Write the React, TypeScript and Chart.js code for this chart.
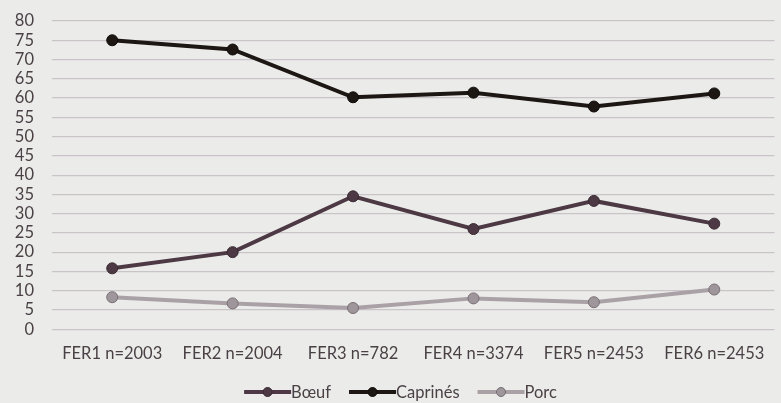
import React, { useEffect, useRef } from "react";
import { Chart, registerables } from "chart.js";

Chart.register(...registerables);

const categories = [
  "FER1 n=2003",
  "FER2 n=2004",
  "FER3 n=782",
  "FER4 n=3374",
  "FER5 n=2453",
  "FER6 n=2453",
];
const boeuf = [15.8, 20, 34.5, 26, 33.3, 27.4];
const caprines = [75, 72.6, 60.2, 61.4, 57.8, 61.2];
const porc = [8.3, 6.7, 5.5, 8, 7, 10.3];
const yTicks = [0, 5, 10, 15, 20, 25, 30, 35, 40, 45, 50, 55, 60, 65, 70, 75, 80];

const FONT = "Lato, 'Open Sans', sans-serif";
const TEXT = "#4a4146";

// Bottom legend: each entry is a short line with a round marker, followed by its label
const lineLegend = {
  id: "lineLegend",
  afterDraw(chart: any) {
    const ctx = chart.ctx;
    const sets = chart.data.datasets;
    const swW = 47;
    const gap = 18;
    const y = 392;
    ctx.save();
    ctx.font = `16.5px ${FONT}`;
    const widths = sets.map((d: any) => swW + ctx.measureText(d.label).width);
    const total = widths.reduce((a: number, b: number) => a + b, 0) + gap * (sets.length - 1);
    let x = chart.width / 2 + 10 - total / 2;
    sets.forEach((d: any, i: number) => {
      ctx.strokeStyle = d.borderColor;
      ctx.lineWidth = 4;
      ctx.beginPath();
      ctx.moveTo(x, y);
      ctx.lineTo(x + swW, y);
      ctx.stroke();
      ctx.beginPath();
      ctx.arc(x + swW / 2, y, 4.5, 0, Math.PI * 2);
      ctx.fillStyle = d.pointBackgroundColor;
      ctx.fill();
      ctx.lineWidth = 1;
      ctx.strokeStyle = d.pointBorderColor;
      ctx.stroke();
      ctx.fillStyle = TEXT;
      ctx.textBaseline = "middle";
      ctx.textAlign = "left";
      ctx.fillText(d.label, x + swW, y + 1);
      x += widths[i] + gap;
    });
    ctx.restore();
  },
};

export default function App() {
  const ref = useRef<HTMLCanvasElement>(null);

  useEffect(() => {
    const series = [
      { label: "Bœuf", data: boeuf, line: "#4d3943", fill: "#4d3943", border: "#3a2a33" },
      { label: "Caprinés", data: caprines, line: "#1d1714", fill: "#1d1714", border: "#100c0a" },
      { label: "Porc", data: porc, line: "#aaa1a7", fill: "#9f969c", border: "#776d73" },
    ];

    const chart = new Chart(ref.current!, {
      type: "line",
      data: {
        labels: categories,
        datasets: series.map((s) => ({
          label: s.label,
          data: s.data,
          borderColor: s.line,
          backgroundColor: s.fill,
          pointBackgroundColor: s.fill,
          pointBorderColor: s.border,
          pointBorderWidth: 1,
          borderWidth: 4,
          pointRadius: 5.5,
          tension: 0,
        })),
      },
      plugins: [lineLegend],
      options: {
        animation: false,
        responsive: false,
        layout: { padding: { top: 0, right: 6, bottom: 32, left: 0 } },
        plugins: {
          tooltip: { enabled: false },
          legend: { display: false },
        },
        scales: {
          x: {
            offset: true,
            grid: { display: false },
            border: { display: false },
            ticks: {
              color: TEXT,
              font: { family: FONT, size: 16.5 },
              padding: 7,
              maxRotation: 0,
              autoSkip: false,
            },
          },
          y: {
            min: 0,
            max: 80,
            afterBuildTicks: (axis: any) => {
              axis.ticks = yTicks.map((v) => ({ value: v }));
            },
            afterFit: (axis: any) => {
              axis.width = 52;
              axis.paddingTop = 21;
            },
            grid: { color: "#c9c4c8", lineWidth: 1.2, drawTicks: false },
            border: { display: false },
            ticks: {
              color: TEXT,
              font: { family: FONT, size: 16.5 },
              padding: 18,
              autoSkip: false,
            },
          },
        },
      },
    });
    return () => chart.destroy();
  }, []);

  return (
    <div
      style={{
        position: "fixed",
        left: 0,
        top: 0,
        width: 781,
        height: 403,
        background: "#ebebea",
      }}
    >
      <canvas ref={ref} width={781} height={403} />
    </div>
  );
}
